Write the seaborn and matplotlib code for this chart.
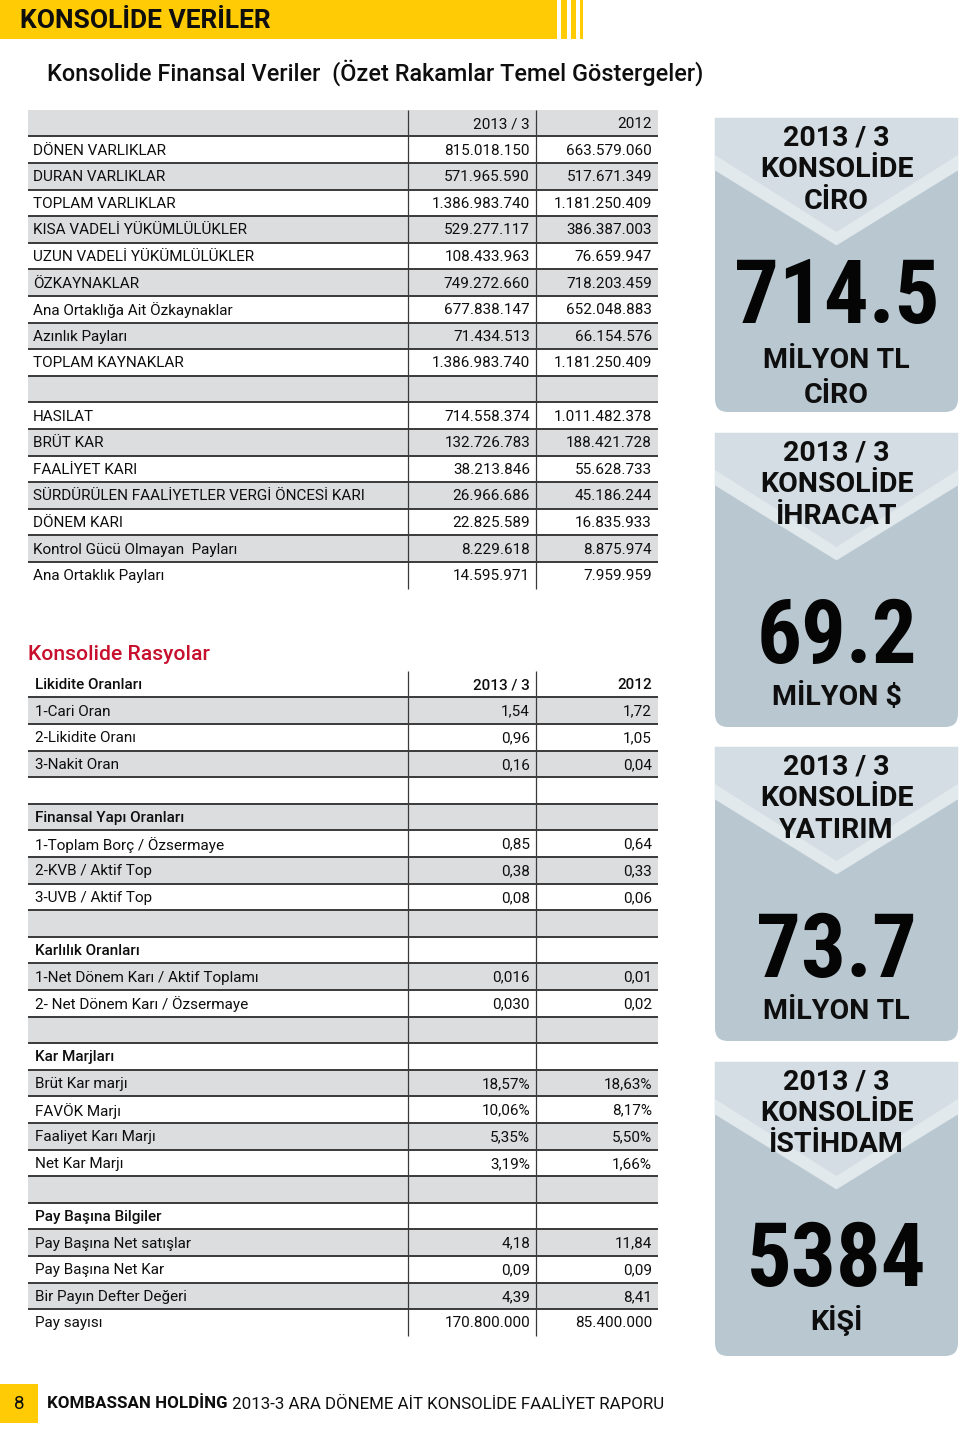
import matplotlib
matplotlib.use("Agg")
import matplotlib.pyplot as plt
import seaborn as sns
from matplotlib import font_manager as fm
from matplotlib.patches import FancyBboxPatch, Polygon, Rectangle

# ---------------- data ----------------
page_title = "KONSOLİDE VERİLER"
subtitle = "Konsolide Finansal Veriler  (Özet Rakamlar Temel Göstergeler)"
col_headers = ["2013 / 3", "2012"]

t1_labels = ["DÖNEN VARLIKLAR", "DURAN VARLIKLAR", "TOPLAM VARLIKLAR",
             "KISA VADELİ YÜKÜMLÜLÜKLER", "UZUN VADELİ YÜKÜMLÜLÜKLER", "ÖZKAYNAKLAR",
             "Ana Ortaklığa Ait Özkaynaklar", "Azınlık Payları", "TOPLAM KAYNAKLAR", "",
             "HASILAT", "BRÜT KAR", "FAALİYET KARI",
             "SÜRDÜRÜLEN FAALİYETLER VERGİ ÖNCESİ KARI", "DÖNEM KARI",
             "Kontrol Gücü Olmayan  Payları", "Ana Ortaklık Payları"]
t1_2013 = ["815.018.150", "571.965.590", "1.386.983.740", "529.277.117", "108.433.963",
           "749.272.660", "677.838.147", "71.434.513", "1.386.983.740", "",
           "714.558.374", "132.726.783", "38.213.846", "26.966.686", "22.825.589",
           "8.229.618", "14.595.971"]
t1_2012 = ["663.579.060", "517.671.349", "1.181.250.409", "386.387.003", "76.659.947",
           "718.203.459", "652.048.883", "66.154.576", "1.181.250.409", "",
           "1.011.482.378", "188.421.728", "55.628.733", "45.186.244", "16.835.933",
           "8.875.974", "7.959.959"]

ratio_title = "Konsolide Rasyolar"
t2_labels = ["Likidite Oranları", "1-Cari Oran", "2-Likidite Oranı", "3-Nakit Oran", "",
             "Finansal Yapı Oranları", "1-Toplam Borç / Özsermaye", "2-KVB / Aktif Top",
             "3-UVB / Aktif Top", "", "Karlılık Oranları",
             "1-Net Dönem Karı / Aktif Toplamı", "2- Net Dönem Karı / Özsermaye", "",
             "Kar Marjları", "Brüt Kar marjı", "FAVÖK Marjı", "Faaliyet Karı Marjı",
             "Net Kar Marjı", "", "Pay Başına Bilgiler", "Pay Başına Net satışlar",
             "Pay Başına Net Kar", "Bir Payın Defter Değeri", "Pay sayısı"]
t2_2013 = ["2013 / 3", "1,54", "0,96", "0,16", "", "", "0,85", "0,38", "0,08", "", "",
           "0,016", "0,030", "", "", "18,57%", "10,06%", "5,35%", "3,19%", "", "",
           "4,18", "0,09", "4,39", "170.800.000"]
t2_2012 = ["2012", "1,72", "1,05", "0,04", "", "", "0,64", "0,33", "0,06", "", "",
           "0,01", "0,02", "", "", "18,63%", "8,17%", "5,50%", "1,66%", "", "",
           "11,84", "0,09", "8,41", "85.400.000"]
t2_section_rows = [0, 5, 10, 14, 20]

panel_titles = [["2013 / 3", "KONSOLİDE", "CİRO"],
                ["2013 / 3", "KONSOLİDE", "İHRACAT"],
                ["2013 / 3", "KONSOLİDE", "YATIRIM"],
                ["2013 / 3", "KONSOLİDE", "İSTİHDAM"]]
panel_values = ["714.5", "69.2", "73.7", "5384"]
panel_units = [["MİLYON TL", "CİRO"], ["MİLYON $"], ["MİLYON TL"], ["KİŞİ"]]

page_number = "8"
footer_bold = "KOMBASSAN HOLDİNG"
footer_rest = " 2013-3 ARA DÖNEME AİT KONSOLİDE FAALİYET RAPORU"

# ---------------- style ----------------
sns.set_theme(style="white")
names = {f.name for f in fm.fontManager.ttflist}
BASE = "Roboto" if "Roboto" in names else "DejaVu Sans"
NARROW = None
for n in ["Roboto Condensed", "Liberation Sans Narrow", "Open Sans Condensed"]:
    if n in names:
        NARROW = n
        break
plt.rcParams['font.family'] = [BASE, 'DejaVu Sans']

YELLOW = "#FFCB05"
RED = "#C8102E"
GREY = "#DCDDDF"
LINE = "#3A3A3A"
INK = "#0E0E0E"
P_BODY = "#B8C7D0"
P_TOP = "#D3DDE3"
P_BAND = "#E2E9ED"

fig = plt.figure(figsize=(9.6, 14.29), dpi=100)
ax = fig.add_axes([0, 0, 1, 1])
ax.set_xlim(0, 960)
ax.set_ylim(1429, 0)
ax.axis("off")

# ---------------- header ----------------
ax.add_patch(Rectangle((0, 0), 557, 39, color=YELLOW, lw=0))
for x0, w in [(561, 6), (571, 5), (580, 3)]:
    ax.add_patch(Rectangle((x0, 0), w, 39, color=YELLOW, lw=0))
ax.text(20, 21, page_title, fontsize=19, fontweight="bold", color=INK,
        va="center", ha="left")
ax.text(47, 73, subtitle, fontsize=16.9, fontweight="medium", color=INK,
        va="center", ha="left")

# ---------------- tables ----------------
LEFT, RIGHT = 28, 658
DIV = [408, 536]
VX = [530, 652]


def draw_table(top, labels, v1, v2, grey_parity, label_x, bold_rows, fs):
    n = len(labels)
    pitch = 26.6
    centers = [top + pitch * (i + 0.5) for i in range(n)]
    grey_rows = [c for i, c in enumerate(centers) if i % 2 == grey_parity]
    ax.barh(grey_rows, RIGHT - LEFT, left=LEFT, height=pitch, color=GREY,
            linewidth=0, zorder=1)
    bounds = [top + pitch * (i + 1) for i in range(n - 1)]
    ax.hlines(bounds, LEFT, RIGHT, colors=LINE, lw=1.4, zorder=3)
    ax.vlines(DIV, top, top + pitch * n, colors=LINE, lw=0.9, zorder=3)
    for i, c in enumerate(centers):
        w = "medium" if i in bold_rows else "normal"
        ax.text(label_x, c + 1, labels[i], fontsize=fs, fontweight=w, color=INK,
                va="center", ha="left", zorder=4)
        ax.text(VX[0], c + 1, v1[i], fontsize=fs, fontweight=w, color=INK,
                va="center", ha="right", zorder=4)
        ax.text(VX[1], c + 1, v2[i], fontsize=fs, fontweight=w, color=INK,
                va="center", ha="right", zorder=4)


draw_table(109.7, [""] + t1_labels, col_headers[:1] + t1_2013, col_headers[1:] + t1_2012,
           0, 33, [], 11)

ax.text(28, 654, ratio_title, fontsize=15.2, fontweight="medium", color=RED,
        va="center", ha="left")
draw_table(670.7, t2_labels, t2_2013, t2_2012, 1, 35, t2_section_rows, 11)

# ---------------- side panels ----------------
PX0, PX1 = 715, 958
PXC = (PX0 + PX1) / 2
PH = 294
tops = [118, 433, 747, 1062]
value_base = [205, 230, 230, 224]
unit_off = [[242, 277], [264], [264], [259]]

if NARROW:
    num_kw = dict(fontfamily=NARROW, fontsize=64, fontweight="bold")
else:
    num_kw = dict(fontsize=56, fontweight="bold")

for k, T in enumerate(tops):
    ax.add_patch(FancyBboxPatch((PX0, T), PX1 - PX0, PH,
                                boxstyle="round,pad=0,rounding_size=13",
                                fc=P_BODY, ec="none", zorder=1))
    band = [(PX0, T), (PX1, T), (PX1, T + 52), (PXC, T + 127), (PX0, T + 52)]
    ax.add_patch(Polygon(band, closed=True, fc=P_BAND, ec=P_BAND, lw=0.5,
                         joinstyle="round", zorder=2))
    topr = [(PX0, T), (PX1, T), (PX1, T + 37), (PXC, T + 114), (PX0, T + 37)]
    ax.add_patch(Polygon(topr, closed=True, fc=P_TOP, ec="none", zorder=3))
    for j, line in enumerate(panel_titles[k]):
        ax.text(PXC, T + 20 + 31.5 * j, line, fontsize=20.5, fontweight="bold",
                color=INK, ha="center", va="center", zorder=5)
    ax.text(PXC, T + value_base[k], panel_values[k], color="#050505", ha="center",
            va="baseline", zorder=5, **num_kw)
    for j, line in enumerate(panel_units[k]):
        ax.text(PXC, T + unit_off[k][j], line, fontsize=20.5, fontweight="bold",
                color=INK, ha="center", va="center", zorder=5)

# ---------------- footer ----------------
ax.add_patch(Rectangle((0, 1384), 38, 39, color=YELLOW, lw=0))
ax.text(19, 1404, page_number, fontsize=13.5, color=INK, ha="center", va="center")
t_bold = ax.text(47, 1404, footer_bold, fontsize=12.2, fontweight="bold",
                 color=INK, ha="left", va="center")
ax.annotate(footer_rest, xy=(1, 0.5), xycoords=t_bold, fontsize=12.2,
            color=INK, ha="left", va="center")

fig.savefig("out.png", dpi=100, facecolor="white")
